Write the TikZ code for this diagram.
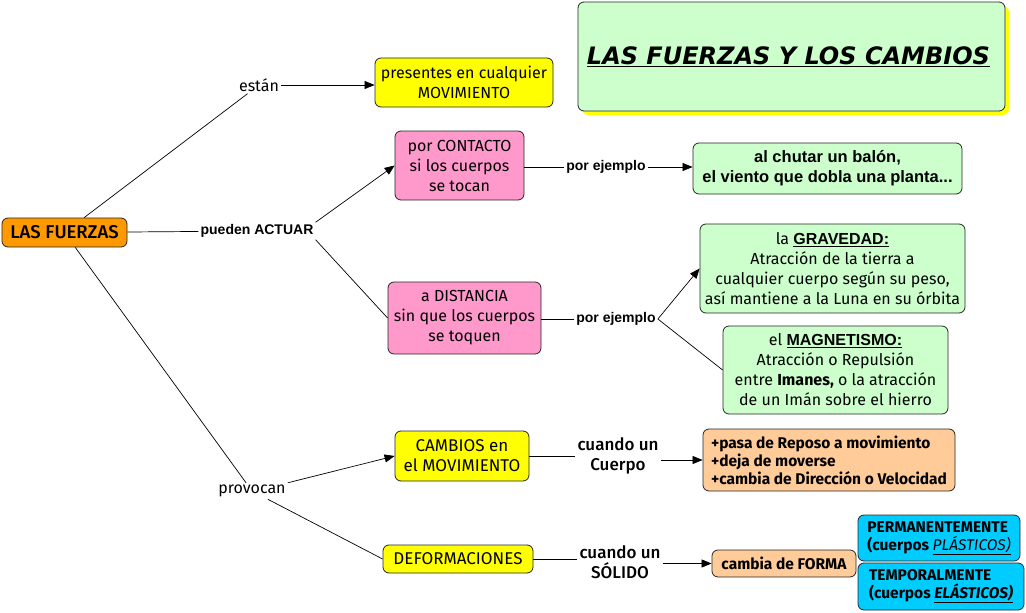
\documentclass[tikz,border=0pt]{standalone}
\usepackage{fontspec}
\setmainfont{Fira Sans}
\newfontfamily\arialf{Liberation Sans}
\newfontfamily\titlef{DejaVu Sans}
\newfontfamily\firamed{Fira Sans Medium}
\newcommand\myul[1]{\underline{#1}}
\usetikzlibrary{arrows.meta,shadows}
\definecolor{corange}{HTML}{FF9900}
\definecolor{cyellow}{HTML}{FFFF00}
\definecolor{cpink}{HTML}{FF99CC}
\definecolor{cgreen}{HTML}{CCFFCC}
\definecolor{cpeach}{HTML}{FFCC99}
\definecolor{ccyan}{HTML}{00CCFF}
\begin{document}
\begin{tikzpicture}[x=1pt,y=-1pt,
  box/.style={draw=black!85, rounded corners=6pt, line width=0.8pt, align=center, inner sep=1pt, font=\fontsize{16}{20}\selectfont},
  lbl/.style={inner sep=2pt, font=\fontsize{16}{18}\selectfont, align=center},
  blbl/.style={inner sep=2pt, font=\arialf\bfseries\fontsize{14}{16}\selectfont},
  conn/.style={line width=0.7pt, black},
  arr/.style={conn, -{Triangle[length=10pt,width=8pt]}},
]
\useasboundingbox[fill=white] (0,0) rectangle (1026,613);

% title
\node[box, fill=cgreen, minimum width=427, minimum height=109,
  drop shadow={fill=cyellow, opacity=1, shadow xshift=4pt, shadow yshift=-4pt},
  font=\titlef\bfseries\itshape\fontsize{24}{26}\selectfont] (title) at (791.5,56.5)
  {\myul{LAS FUERZAS Y LOS CAMBIOS}\hspace*{6pt}};

% boxes
\node[box, fill=corange, minimum width=125, minimum height=29, font=\firamed\fontsize{18.5}{20}\selectfont] (fz) at (64.5,232.5) {LAS FUERZAS};
\node[box, fill=cyellow, minimum width=178, minimum height=49] (pres) at (464,82.5) {presentes en cualquier\\MOVIMIENTO};
\node[box, fill=cpink, minimum width=129, minimum height=69] (cont) at (459.5,165.5) {por CONTACTO\\si los cuerpos\\se tocan};
\node[box, fill=cpink, minimum width=153, minimum height=72] (dist) at (464.5,318) {a DISTANCIA\\sin que los cuerpos\\se toquen};
\node[box, fill=cgreen, minimum width=269, minimum height=51, font=\arialf\bfseries\fontsize{16.5}{20}\selectfont] (ej1) at (827.5,168.5) {al chutar un balón,\\el viento que dobla una planta...};
\node[box, fill=cgreen, minimum width=265, minimum height=89] (grav) at (832.5,268.5) {la {\arialf\bfseries\myul{GRAVEDAD:}}\\Atracción de la tierra a\\cualquier cuerpo según su peso,\\así mantiene a la Luna en su órbita};
\node[box, fill=cgreen, minimum width=225, minimum height=88] (mag) at (835.5,370) {el {\arialf\bfseries\myul{MAGNETISMO:}}\\Atracción o Repulsión\\entre \textbf{Imanes,} o la atracción\\de un Imán sobre el hierro};
\node[box, fill=cyellow, minimum width=134, minimum height=50, font=\fontsize{17}{20}\selectfont] (camb) at (462,456) {CAMBIOS en\\el MOVIMIENTO};
\node[box, fill=cpeach, minimum width=252, minimum height=62, align=left, font=\bfseries\fontsize{15.5}{18}\selectfont] (mov) at (829,460) {+pasa de Reposo a movimiento\\+deja de moverse\\+cambia de Dirección o Velocidad};
\node[box, fill=cyellow, minimum width=150, minimum height=28, font=\fontsize{17}{20}\selectfont] (def) at (458,559) {DEFORMACIONES};
\node[box, fill=cpeach, minimum width=144, minimum height=27, font=\bfseries\fontsize{15.5}{18}\selectfont] (forma) at (784,563.5) {cambia de FORMA};
\node[box, fill=ccyan, minimum width=162, minimum height=46, align=left, font=\bfseries\fontsize{15.5}{18}\selectfont] (perm) at (939,538) {PERMANENTEMENTE\\(cuerpos {\mdseries\itshape\myul{PLÁSTICOS)}}};
\node[box, fill=ccyan, minimum width=166, minimum height=47, align=left, font=\bfseries\fontsize{15.5}{18}\selectfont] (temp) at (941,586.5) {TEMPORALMENTE\\(cuerpos {\itshape\myul{ELÁSTICOS)}}};

% linking phrases
\node[lbl] (estan) at (259,85) {están};
\node[blbl] (actuar) at (257,231) {pueden ACTUAR};
\node[blbl] (l1) at (606,167) {por ejemplo};
\node[blbl] (l2) at (616,319) {por ejemplo};
\node[lbl] (prov) at (252,491) {provocan};
\node[lbl, font=\firamed\fontsize{17}{20}\selectfont] (c1) at (618,456) {cuando un\\Cuerpo};
\node[lbl, font=\firamed\fontsize{17}{20}\selectfont] (c2) at (620,562) {cuando un\\SÓLIDO};
\coordinate (c1e) at ([yshift=-4pt]c1.east);
\coordinate (c2e) at ([yshift=-1.5pt]c2.east);

% connectors
\draw[conn] (fz) -- (estan);
\draw[arr] (estan) -- (pres.west |- estan);
\draw[conn] (fz) -- (actuar);
\draw[arr] (actuar.north east) -- (cont.west);
\draw[conn] (actuar.south east) -- (dist.west);
\draw[conn] (cont.east |- l1) -- (l1);
\draw[arr] (l1) -- (ej1.west |- l1);
\draw[conn] (dist.east |- l2) -- (l2);
\draw[arr] (l2.east) -- (grav.west);
\draw[conn] (l2.east) -- (mag.west);
\draw[conn] (fz) -- (prov);
\draw[arr] (prov.north east) -- (camb.west);
\draw[conn] (prov) -- (def.west);
\draw[conn] (camb) -- (c1);
\draw[arr] (c1e) -- (mov.west |- c1e);
\draw[conn] (def.east) -- (def.east -| c2.west);
\draw[arr] (c2e) -- (forma.west |- c2e);
\end{tikzpicture}
\end{document}
